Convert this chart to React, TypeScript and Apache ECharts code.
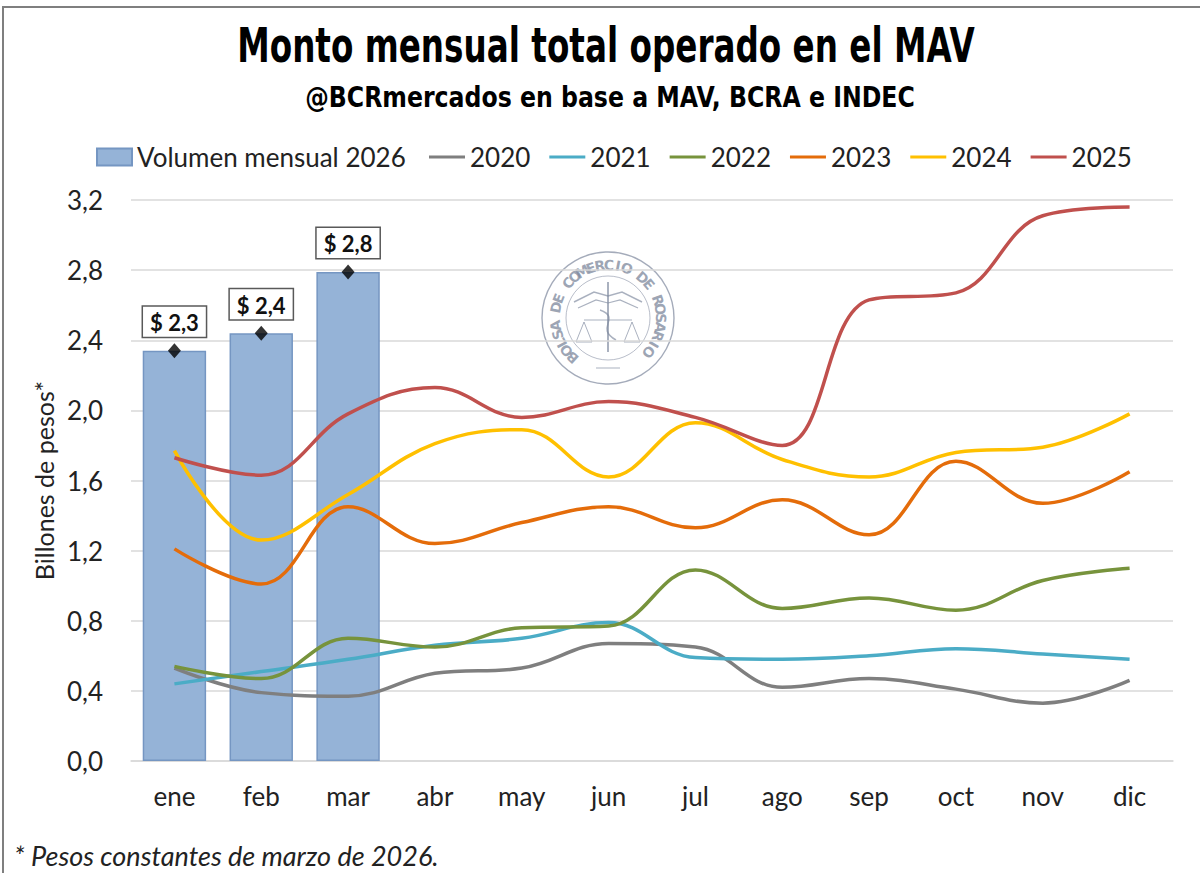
import React, { useEffect, useRef } from "react";
import * as echarts from "echarts";

const months = ["ene", "feb", "mar", "abr", "may", "jun", "jul", "ago", "sep", "oct", "nov", "dic"];
const vol2026 = [2.34, 2.44, 2.79];
const s2020 = [0.53, 0.39, 0.37, 0.5, 0.53, 0.67, 0.65, 0.42, 0.47, 0.41, 0.33, 0.46];
const s2021 = [0.44, 0.51, 0.58, 0.66, 0.7, 0.79, 0.59, 0.58, 0.6, 0.64, 0.61, 0.58];
const s2022 = [0.54, 0.47, 0.7, 0.65, 0.76, 0.77, 1.09, 0.87, 0.93, 0.86, 1.03, 1.1];
const s2023 = [1.21, 1.01, 1.45, 1.24, 1.36, 1.45, 1.33, 1.49, 1.29, 1.71, 1.47, 1.65];
const s2024 = [1.77, 1.26, 1.52, 1.81, 1.89, 1.62, 1.93, 1.72, 1.62, 1.76, 1.79, 1.98];
const s2025 = [1.73, 1.63, 1.98, 2.13, 1.96, 2.05, 1.96, 1.8, 2.63, 2.67, 3.11, 3.16];
const yTicks = [0, 0.4, 0.8, 1.2, 1.6, 2.0, 2.4, 2.8, 3.2];

const lineSeries = [
  { name: "2020", data: s2020, color: "#7f7f7f" },
  { name: "2021", data: s2021, color: "#4bacc6" },
  { name: "2022", data: s2022, color: "#77933c" },
  { name: "2023", data: s2023, color: "#e46c0a" },
  { name: "2024", data: s2024, color: "#ffc000" },
  { name: "2025", data: s2025, color: "#c0504d" },
];

const FONT = "Lato, 'Open Sans', sans-serif";
const HEAVY = "'DejaVu Sans', sans-serif";

function comma(v: number, d = 1) {
  return v.toFixed(d).replace(".", ",");
}

function sealGraphics() {
  const cx = 608;
  const cy = 318;
  const txt = "BOLSA DE COMERCIO DE ROSARIO";
  const start = 132;
  const end = 400;
  const r = 53;
  const els: any[] = [];
  const col = "#7d879c";
  els.push({ type: "circle", shape: { cx, cy, r: 66 }, style: { fill: "none", stroke: col, lineWidth: 1.4, opacity: 0.7 }, silent: true });
  els.push({ type: "circle", shape: { cx, cy, r: 42 }, style: { fill: "none", stroke: col, lineWidth: 1, opacity: 0.55 }, silent: true });
  for (let i = 0; i < txt.length; i++) {
    const deg = start + ((end - start) * i) / (txt.length - 1);
    const th = (deg * Math.PI) / 180;
    els.push({
      type: "text",
      x: cx + r * Math.cos(th),
      y: cy + r * Math.sin(th),
      rotation: (-(deg - 270) * Math.PI) / 180,
      silent: true,
      style: { text: txt[i], fill: col, font: "bold 14px 'DejaVu Sans'", align: "center", verticalAlign: "middle", opacity: 0.75 },
    });
  }
  const st = { stroke: col, fill: "none", opacity: 0.65 };
  els.push({ type: "line", shape: { x1: cx, y1: cy - 36, x2: cx, y2: cy + 34 }, style: { ...st, lineWidth: 2 }, silent: true });
  els.push({ type: "polyline", shape: { points: [[cx - 34, cy - 16], [cx - 14, cy - 26], [cx, cy - 22], [cx + 14, cy - 26], [cx + 34, cy - 16]] }, style: { ...st, lineWidth: 1.5 }, silent: true });
  els.push({ type: "polyline", shape: { points: [[cx - 30, cy - 10], [cx - 12, cy - 18], [cx, cy - 15], [cx + 12, cy - 18], [cx + 30, cy - 10]] }, style: { ...st, lineWidth: 1.2 }, silent: true });
  els.push({ type: "polyline", shape: { points: [[cx - 24, cy + 4], [cx - 32, cy + 24], [cx - 16, cy + 24], [cx - 24, cy + 4]] }, style: { ...st, lineWidth: 1 }, silent: true });
  els.push({ type: "polyline", shape: { points: [[cx + 24, cy + 4], [cx + 32, cy + 24], [cx + 16, cy + 24], [cx + 24, cy + 4]] }, style: { ...st, lineWidth: 1 }, silent: true });
  els.push({ type: "line", shape: { x1: cx - 24, y1: cy + 2, x2: cx + 24, y2: cy + 2 }, style: { ...st, lineWidth: 1 }, silent: true });
  els.push({ type: "bezierCurve", shape: { x1: cx - 8, y1: cy - 8, x2: cx + 8, y2: cy + 22, cpx1: cx + 14, cpy1: cy, cpx2: cx - 14, cpy2: cy + 10 }, style: { ...st, lineWidth: 1.5 }, silent: true });
  els.push({ type: "line", shape: { x1: cx - 12, y1: cy + 50, x2: cx + 12, y2: cy + 50 }, style: { ...st, lineWidth: 1 }, silent: true });
  return els;
}

export default function App() {
  const ref = useRef<HTMLDivElement>(null);
  useEffect(() => {
    document.body.style.margin = "0";
    const chart = echarts.init(ref.current!, null, { renderer: "svg" });
    const option: any = {
      animation: false,
      backgroundColor: "#ffffff",
      legend: [
        {
          top: 139,
          left: 91,
          itemWidth: 35,
          itemHeight: 17,
          textStyle: { fontFamily: FONT, fontSize: 26, color: "#222" },
          data: [{ name: "Volumen mensual 2026", icon: "rect" }],
        },
        {
          top: 139,
          left: 424,
          itemGap: 19,
          itemWidth: 36,
          itemHeight: 3,
          icon: "rect",
          textStyle: { fontFamily: FONT, fontSize: 26, color: "#222" },
          data: lineSeries.map((s) => s.name),
        },
      ],
      grid: { left: 131, right: 27, top: 200, bottom: 112, containLabel: false },
      xAxis: {
        type: "category",
        data: months,
        axisLine: { lineStyle: { color: "#d9d9d9", width: 1.5 } },
        axisTick: { show: false },
        axisLabel: { fontFamily: FONT, fontSize: 26, color: "#222", margin: 22 },
      },
      yAxis: {
        type: "value",
        min: 0,
        max: 3.2,
        interval: 0.4,
        name: "Billones de pesos*",
        nameLocation: "middle",
        nameGap: 74,
        nameTextStyle: { fontFamily: FONT, fontSize: 25, color: "#222" },
        axisLine: { show: false },
        axisTick: { show: false },
        axisLabel: {
          fontFamily: FONT,
          fontSize: 26,
          color: "#222",
          margin: 28,
          formatter: (v: number) => (yTicks.some((t) => Math.abs(t - v) < 1e-6) ? comma(v) : ""),
        },
        splitLine: { lineStyle: { color: "#d9d9d9", width: 1.5 } },
      },
      series: [
        {
          name: "Volumen mensual 2026",
          type: "bar",
          data: vol2026,
          barWidth: "73%",
          itemStyle: { color: "#95b3d7", borderColor: "#7596c2", borderWidth: 1.5 },
          z: 1,
          label: {
            show: true,
            position: "top",
            distance: 14,
            formatter: (p: any) => "$ " + comma(p.value),
            fontFamily: FONT,
            fontWeight: "bold",
            fontSize: 22,
            color: "#111",
            backgroundColor: "#fff",
            borderColor: "#595959",
            borderWidth: 1.5,
            padding: [5, 7, 3, 7],
          },
        },
        ...lineSeries.map((s) => ({
          name: s.name,
          type: "line",
          data: s.data,
          smooth: 0.4,
          symbol: "none",
          z: 3,
          lineStyle: { color: s.color, width: 3.5 },
          itemStyle: { color: s.color },
        })),
        {
          name: "marcador",
          type: "scatter",
          data: vol2026,
          symbol: "diamond",
          symbolSize: [13, 15],
          itemStyle: { color: "#000" },
          z: 5,
        },
      ],
      graphic: [
        ...sealGraphics(),
        {
          type: "text",
          x: 606,
          y: 22,
          scaleX: 0.68,
          style: {
            text: "Monto mensual total operado en el MAV",
            font: "bold 48px " + HEAVY,
            fill: "#000",
            align: "center",
            verticalAlign: "top",
          },
        },
        {
          type: "text",
          x: 610,
          y: 82,
          scaleX: 0.815,
          style: {
            text: "@BCRmercados en base a MAV, BCRA e INDEC",
            font: "bold 29px " + HEAVY,
            fill: "#000",
            align: "center",
            verticalAlign: "top",
          },
        },
        {
          type: "text",
          left: 14,
          top: 842,
          style: { text: "* Pesos constantes de marzo de 2026.", font: "italic 27px Lato, 'Open Sans', sans-serif", fill: "#222" },
        },
        {
          type: "rect",
          shape: { x: 3, y: 7, width: 1210, height: 880 },
          style: { fill: "none", stroke: "#7f7f7f", lineWidth: 2 },
          silent: true,
        },
      ],
    };
    chart.setOption(option);
    return () => chart.dispose();
  }, []);
  return <div ref={ref} style={{ position: "absolute", left: 0, top: 0, width: 1200, height: 873 }} />;
}
